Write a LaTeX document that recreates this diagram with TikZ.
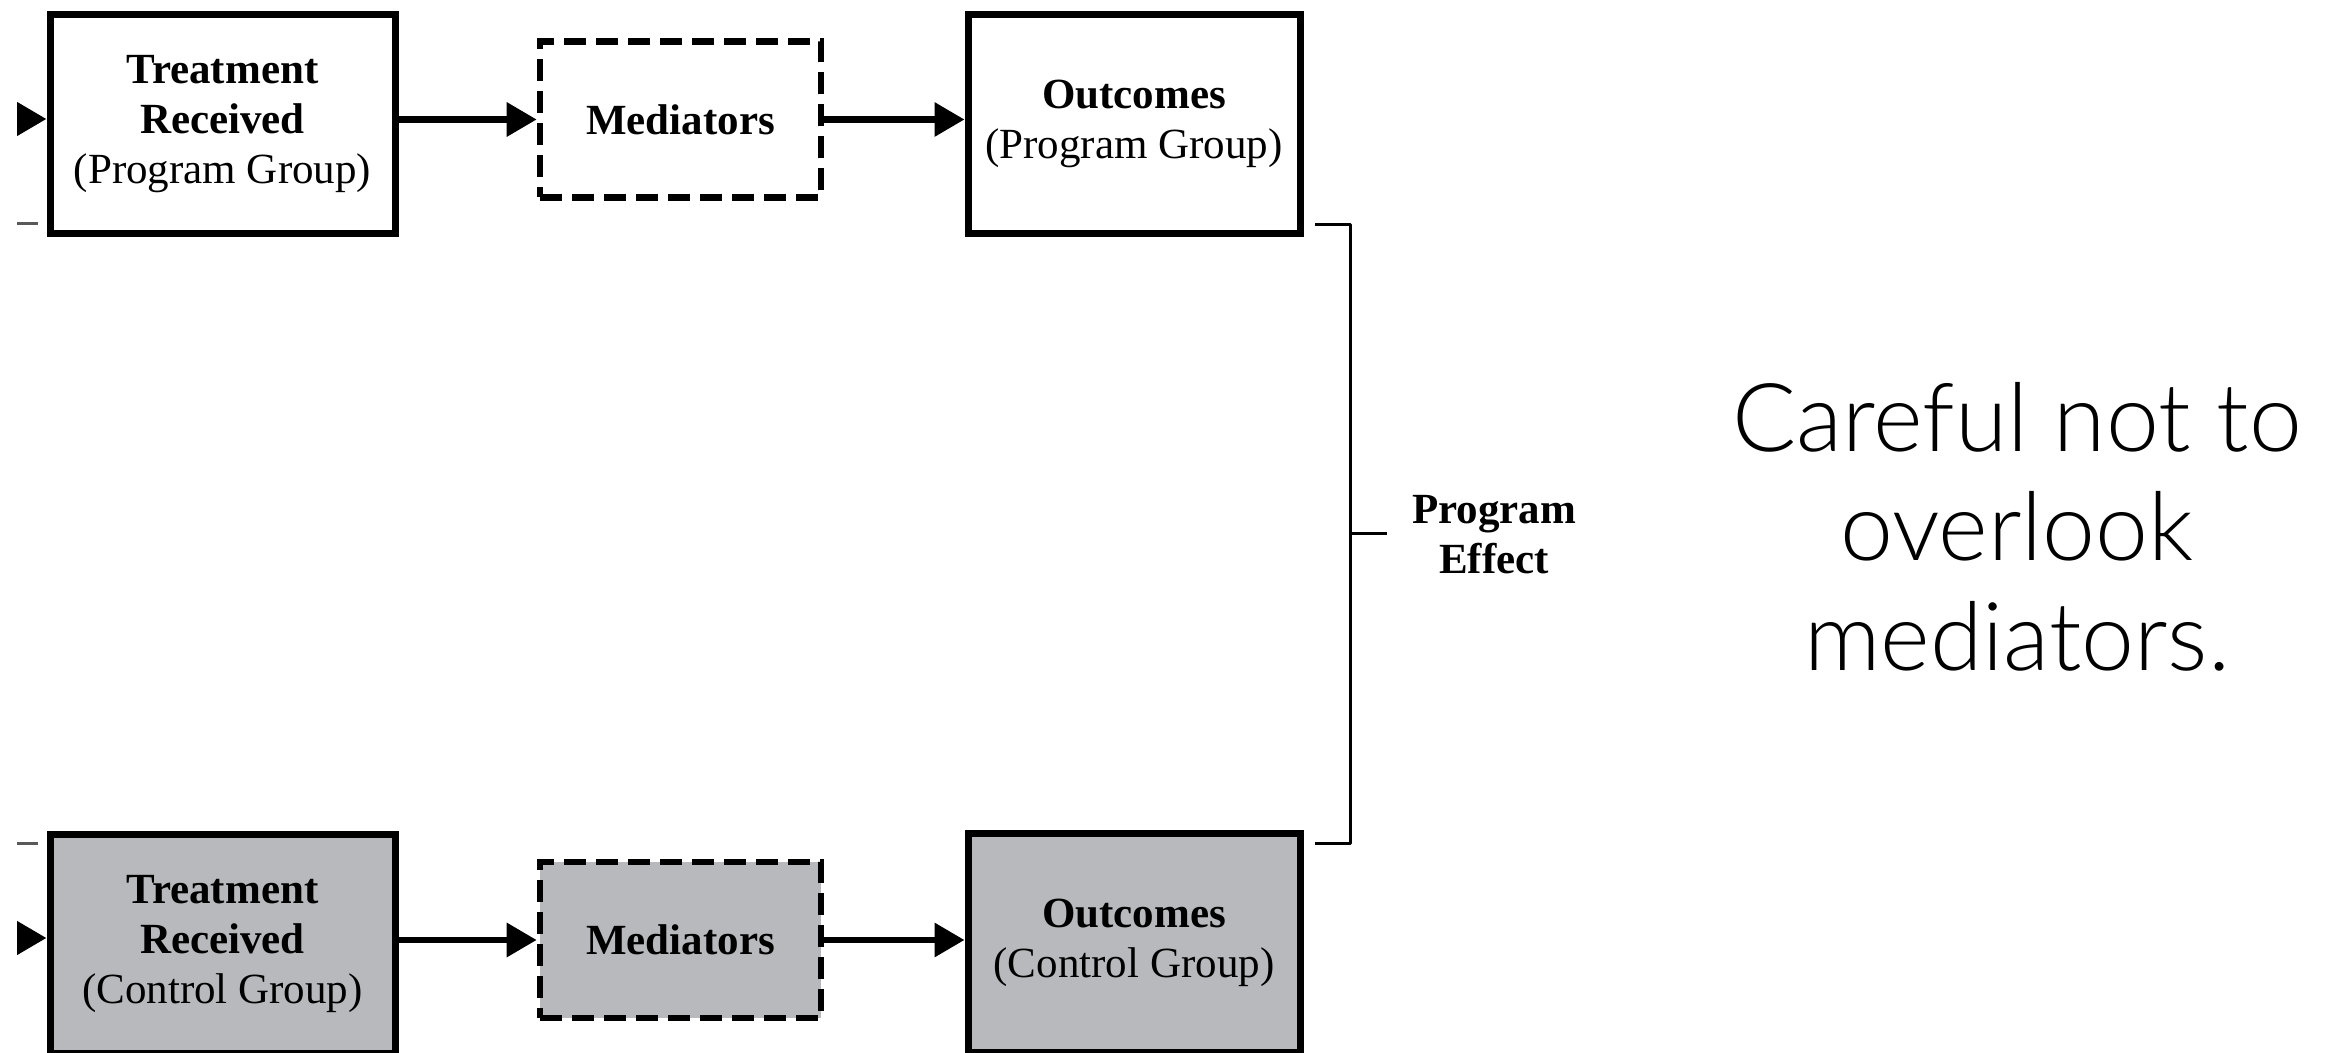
\documentclass[tikz,border=0pt]{standalone}
\usepackage{fontspec}
\setmainfont{Liberation Serif}
\newfontfamily\lightfont{Lato Light}
\usetikzlibrary{arrows.meta,calc}
\definecolor{boxgray}{RGB}{184,185,189}
\begin{document}
\begin{tikzpicture}[x=0.5pt,y=-0.5pt,
  every node/.style={inner sep=0pt},
  boxtext/.style={align=center, font=\fontsize{21.5}{25}\selectfont},
  solidbox/.style={boxtext, draw=black, line width=3.5pt},
  dashbox/.style={boxtext, draw=black, line width=3.3pt, dash pattern=on 11pt off 5pt},
  treatbox/.style={solidbox, minimum width=172.5pt, minimum height=109.5pt},
  medbox/.style={dashbox, minimum width=140.5pt, minimum height=78pt},
  outbox/.style={solidbox, minimum width=166pt, minimum height=109.5pt},
  control/.style={fill=boxgray},
  conn/.style={line width=3.2pt, -{Triangle[length=15pt,width=16.5pt]}},
  bracket/.style={line width=1.5pt, line join=round},
  stub/.style={line width=1.5pt, black!65},
  remark/.style={font=\lightfont\fontsize{47.5}{54}\selectfont, anchor=base}
]
\useasboundingbox (0,0) rectangle (2326,1053);

% program group row
\node[treatbox] (T1) at (222.5,124.5)
  {\textbf{Treatment}\\\textbf{Received}\\(Program Group)};
\node[medbox] (M1) at (680.5,119.5) {\textbf{Mediators}};
\node[outbox] (O1) at (1134,124) {\textbf{Outcomes}\\(Program Group)};

% control group row
\node[treatbox, control] (T2) at (222.5,943.5)
  {\textbf{Treatment}\\\textbf{Received}\\(Control Group)};
\node[medbox, control] (M2) at (680.5,940) {\textbf{Mediators}};
\node[outbox, control] (O2) at (1134,943) {\textbf{Outcomes}\\(Control Group)};

% connectors
\draw[conn] (M1.west -| T1.east) -- (M1.west);
\draw[conn] (M1.east) -- (M1.east -| O1.west);
\draw[conn] (M2.west -| T2.east) -- (M2.west);
\draw[conn] (M2.east) -- (M2.east -| O2.west);

% incoming arrows and bracket ends cut at the left margin
\begin{scope}
  \clip (17,0) rectangle (2326,1053);
  \coordinate (inA) at (-30,119);
  \coordinate (inB) at (-30,938);
  \draw[conn] (inA) -- (inA -| T1.west);
  \draw[conn] (inB) -- (inB -| T2.west);
  \coordinate (sA1) at (17,224);
  \coordinate (sA2) at (38,224);
  \coordinate (sB1) at (17,843);
  \coordinate (sB2) at (38,843);
  \draw[stub] (sA1) -- (sA2);
  \draw[stub] (sB1) -- (sB2);
\end{scope}

% program effect bracket
\node[boxtext] (PE) at (1494,535) {\textbf{Program}\\\textbf{Effect}};
\coordinate (b1) at (1315,225);
\coordinate (b2) at (1350,225);
\coordinate (b3) at (1350,843);
\coordinate (b4) at (1315,843);
\coordinate (bm) at (1350,534);
\coordinate (bt) at (1387,534);
\draw[bracket] (b1) -- (b2) -- (b3) -- (b4);
\draw[bracket] (bm) -- (bt);

% remark
\node[remark] (R1) at (2017,452) {Careful not to};
\node[remark] (R2) at (2017,561) {overlook};
\node[remark] (R3) at (2017,670) {mediators.};
\end{tikzpicture}
\end{document}
